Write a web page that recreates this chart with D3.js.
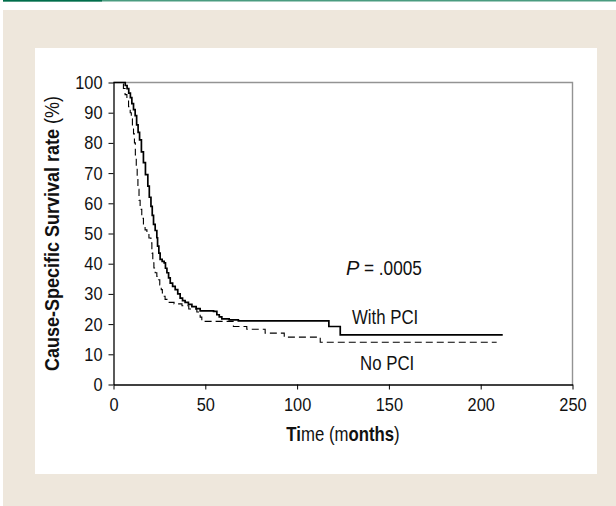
<!DOCTYPE html>
<html><head><meta charset="utf-8">
<script src="https://cdn.jsdelivr.net/npm/d3@7"></script>
<style>
html,body{margin:0;padding:0;background:#fff;}
svg{display:block;}
text{font-family:"Liberation Sans",Arial,sans-serif;fill:#111;}
</style></head>
<body>
<svg id="chart" width="616" height="506"></svg>
<script>
// ---- data ----
const withPciTime = [0,6.4,7.4,8.3,9.2,10.0,10.9,11.8,12.6,13.4,14.2,15.2,16.3,17.4,18.7,19.5,20.4,21.1,21.8,22.7,23.6,24.0,24.7,25.4,26.5,27.6,28.3,29.1,30.0,30.9,32.2,33.6,35.0,36.3,37.6,39.0,40.8,42.7,45.0,47.2,54.5,56.3,57.6,59.0,63.0,68.0,117.3,123.5,212];
const withPciSurv = [100,99,98,96.5,95,93,91,89,86,83.5,81,77,73.5,69.5,65.7,62,59,56,53,51,48.6,45.8,43.5,41.4,40.8,40.3,38.5,37,35.3,33.6,32.5,31.4,30,28.6,27.8,27.2,26.5,25.8,25.1,24.4,24.2,23.1,22.4,21.7,21.4,21.1,19.2,16.4,16.4];
const noPciTime = [0,4.9,5.4,6.3,7.3,8.2,9.1,9.7,10.3,10.9,11.4,11.9,12.4,12.9,13.3,13.9,14.5,15.4,16.3,17.2,18.2,19.3,20.4,20.9,21.4,22.0,22.7,23.6,24.5,25.2,26.0,26.6,27.2,28.1,29.1,33.0,37.3,41.0,45.4,47.2,48.1,65.3,72.6,82.6,93.0,112.6,208.7];
const noPciSurv = [100,99.5,98,96,94.5,92,90,88,85.7,83,80,76,72.4,68.5,64.6,61,58,55,52.4,51.2,50,48.5,46.9,43.5,40.3,38.6,37,35.8,34.7,33,31.4,30.3,29.2,28.2,27.2,26.7,26.1,25,24,22.3,20.9,19.2,18.3,17,15.7,14,14];
const xTicks = [0,50,100,150,200,250];
const yTicks = [0,10,20,30,40,50,60,70,80,90,100];
const seriesLabels = ["With PCI","No PCI"];
const pLabel = "= .0005";

const svg = d3.select("#chart");
const FONT = "'Liberation Sans',Arial,sans-serif";
function condense(sel, f){
  sel.each(function(){
    const w = this.getComputedTextLength();
    this.setAttribute("textLength", (w*f).toFixed(1));
    this.setAttribute("lengthAdjust","spacingAndGlyphs");
  });
}

// page frame
svg.append("rect").attr("x",3).attr("y",0).attr("width",613).attr("height",1.5).attr("fill","#4a9c80");
svg.append("rect").attr("x",3).attr("y",0).attr("width",99).attr("height",1.5).attr("fill","#006d4b");
svg.append("rect").attr("x",3).attr("y",10).attr("width",613).attr("height",496).attr("fill","#eee7dc");
svg.append("rect").attr("x",35).attr("y",48).attr("width",562).attr("height",426).attr("fill","#ffffff");

const x = d3.scaleLinear().domain([0,250]).range([113.5,572.5]);
const y = d3.scaleLinear().domain([0,100]).range([384.5,82.5]);

// plot border (top/right, gray)
svg.append("path")
  .attr("d",`M${x(0)},${y(100)}H${x(250)}V${y(0)}`)
  .attr("fill","none").attr("stroke","#939393").attr("stroke-width",1.4);

const yAxis = svg.append("g").attr("transform",`translate(${x(0)},0)`)
  .call(d3.axisLeft(y).tickValues(yTicks).tickSize(5).tickPadding(6).tickSizeOuter(0));
const xAxis = svg.append("g").attr("transform",`translate(0,${y(0)})`)
  .call(d3.axisBottom(x).tickValues(xTicks).tickSize(5).tickPadding(8).tickSizeOuter(0));
[yAxis,xAxis].forEach(g=>{
  g.selectAll("path.domain").attr("stroke","#000").attr("stroke-width",1.3);
  g.selectAll("line").attr("stroke","#000").attr("stroke-width",1);
  g.selectAll("text").attr("font-size",19).attr("font-family",FONT).attr("fill","#111");
  condense(g.selectAll("text"), 0.86);
});

const line = d3.line().x(d=>x(d[0])).y(d=>y(d[1])).curve(d3.curveStepAfter);
const noData = noPciTime.map((t,i)=>[t,noPciSurv[i]]);
const withData = withPciTime.map((t,i)=>[t,withPciSurv[i]]);
svg.append("path").datum(noData).attr("d",line).attr("fill","none")
  .attr("stroke","#000").attr("stroke-width",1.1).attr("stroke-dasharray","7,4");
svg.append("path").datum(withData).attr("d",line).attr("fill","none")
  .attr("stroke","#000").attr("stroke-width",1.7);

// annotations
const wl = svg.append("text").attr("x",352).attr("y",324).attr("font-size",20).text(seriesLabels[0]);
const nl = svg.append("text").attr("x",360).attr("y",370).attr("font-size",20).text(seriesLabels[1]);
const pP = svg.append("text").attr("x",346).attr("y",275).attr("font-size",20).attr("font-style","italic").text("P");
const pV = svg.append("text").attr("x",364).attr("y",275).attr("font-size",20).text(pLabel);
condense(wl,0.84); condense(nl,0.84); condense(pV,0.86);

// axis titles (condensed via horizontal scale)
const xt = svg.append("text")
  .attr("transform",`translate(${(x(0)+x(250))/2},441) scale(0.86,1)`)
  .attr("text-anchor","middle").attr("font-size",19.5);
xt.append("tspan").attr("font-weight","bold").text("Ti");
xt.append("tspan").text("me (m");
xt.append("tspan").attr("font-weight","bold").text("onths");
xt.append("tspan").text(")");

const yt = svg.append("text").attr("transform",`translate(59,${(y(0)+y(100))/2}) rotate(-90)`)
  .attr("text-anchor","middle").attr("font-size",19.5);
yt.append("tspan").attr("font-weight","bold").text("Cause-Specific Survival rate");
yt.append("tspan").text(" (%)");
yt.attr("textLength",275).attr("lengthAdjust","spacingAndGlyphs");
</script>
</body></html>
